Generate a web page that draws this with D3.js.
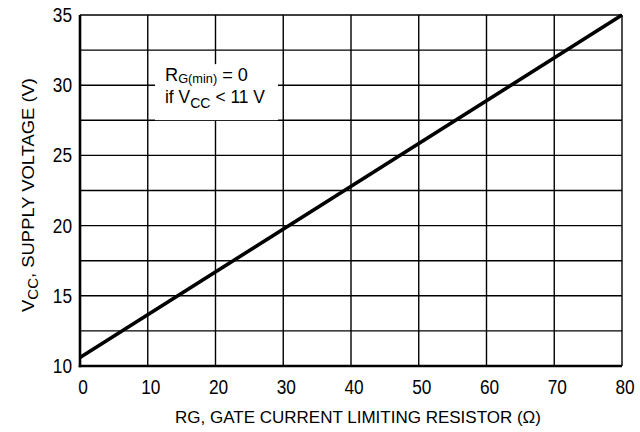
<!DOCTYPE html>
<html>
<head>
<meta charset="utf-8">
<script src="https://cdnjs.cloudflare.com/ajax/libs/d3/7.8.5/d3.min.js"></script>
<style>
  body { margin: 0; background: #fff; }
  svg text { font-family: "Liberation Sans", Arial, sans-serif; fill: #000; }
</style>
</head>
<body>
<svg id="chart" width="640" height="432"></svg>
<script>
// Supply voltage vs gate current limiting resistor
const rgValues = [0, 80];
const vccValues = [10.6, 35];
const xTicks = [0, 10, 20, 30, 40, 50, 60, 70, 80];
const yTicks = [10, 15, 20, 25, 30, 35];
const yGrid = [10, 12.5, 15, 17.5, 20, 22.5, 25, 27.5, 30, 32.5, 35];

const svg = d3.select('#chart');
const margin = { left: 80, right: 18, top: 15, bottom: 66 };
const width = 640 - margin.left - margin.right;
const height = 432 - margin.top - margin.bottom;

const x = d3.scaleLinear().domain([0, 80]).range([margin.left, margin.left + width]);
const y = d3.scaleLinear().domain([10, 35]).range([margin.top + height, margin.top]);

// grid
const grid = svg.append('g').attr('stroke', '#000').attr('stroke-width', 1.4);
grid.selectAll('.vg').data(xTicks).enter().append('line')
    .attr('x1', d => x(d)).attr('x2', d => x(d))
    .attr('y1', y(10)).attr('y2', y(35));
grid.selectAll('.hg').data(yGrid).enter().append('line')
    .attr('x1', x(0)).attr('x2', x(80))
    .attr('y1', d => y(d)).attr('y2', d => y(d));

// annotation box covers the grid
const note = svg.append('g');
note.append('rect')
    .attr('x', x(0) + 75).attr('y', y(31.5))
    .attr('width', 123).attr('height', 56)
    .attr('fill', '#fff');
const t1 = note.append('text').attr('x', 165).attr('y', 81).attr('font-size', 18.5)
    .attr('textLength', 83).attr('lengthAdjust', 'spacingAndGlyphs');
t1.append('tspan').text('R');
t1.append('tspan').attr('font-size', 13).attr('dy', 2).text('G(min)');
t1.append('tspan').attr('dy', -2).text(' = 0');
const t2 = note.append('text').attr('x', 165).attr('y', 102.5).attr('font-size', 18.5)
    .attr('textLength', 100).attr('lengthAdjust', 'spacingAndGlyphs');
t2.append('tspan').text('if V');
t2.append('tspan').attr('font-size', 15).attr('dy', 5).text('CC');
t2.append('tspan').attr('dy', -5).text(' < 11 V');

// axes lines (thick left and bottom)
svg.append('line')
    .attr('x1', x(0)).attr('x2', x(0)).attr('y1', y(10) + 1.3).attr('y2', y(35))
    .attr('stroke', '#000').attr('stroke-width', 2.6);
svg.append('line')
    .attr('x1', x(0) - 1.3).attr('x2', x(80)).attr('y1', y(10)).attr('y2', y(10))
    .attr('stroke', '#000').attr('stroke-width', 2.6);

// data line
const line = d3.line().x(d => x(d[0])).y(d => y(d[1]));
svg.append('path')
    .datum(d3.zip(rgValues, vccValues))
    .attr('d', line)
    .attr('fill', 'none')
    .attr('stroke', '#000')
    .attr('stroke-width', 3.6);

// tick labels (condensed)
svg.append('g').selectAll('text').data(xTicks).enter().append('text')
    .attr('x', d => x(d) + 3).attr('y', 394)
    .attr('text-anchor', 'middle').attr('font-size', 20)
    .attr('textLength', d => String(d).length * 9.6).attr('lengthAdjust', 'spacingAndGlyphs')
    .text(d => d);
svg.append('g').selectAll('text').data(yTicks).enter().append('text')
    .attr('x', 72).attr('y', d => y(d) + 7)
    .attr('text-anchor', 'end').attr('font-size', 20)
    .attr('textLength', d => String(d).length * 9.6).attr('lengthAdjust', 'spacingAndGlyphs')
    .text(d => d);

// axis titles
svg.append('text')
    .attr('x', 175).attr('y', 423)
    .attr('font-size', 17)
    .attr('textLength', 366).attr('lengthAdjust', 'spacingAndGlyphs')
    .text('RG, GATE CURRENT LIMITING RESISTOR (\u03A9)');

const yt = svg.append('text')
    .attr('transform', 'translate(34,312) rotate(-90)')
    .attr('font-size', 17)
    .attr('textLength', 234).attr('lengthAdjust', 'spacingAndGlyphs');
yt.append('tspan').text('V');
yt.append('tspan').attr('font-size', 14).attr('dy', 4).text('CC');
yt.append('tspan').attr('dy', -4).text(', SUPPLY VOLTAGE (V)');
</script>
</body>
</html>
